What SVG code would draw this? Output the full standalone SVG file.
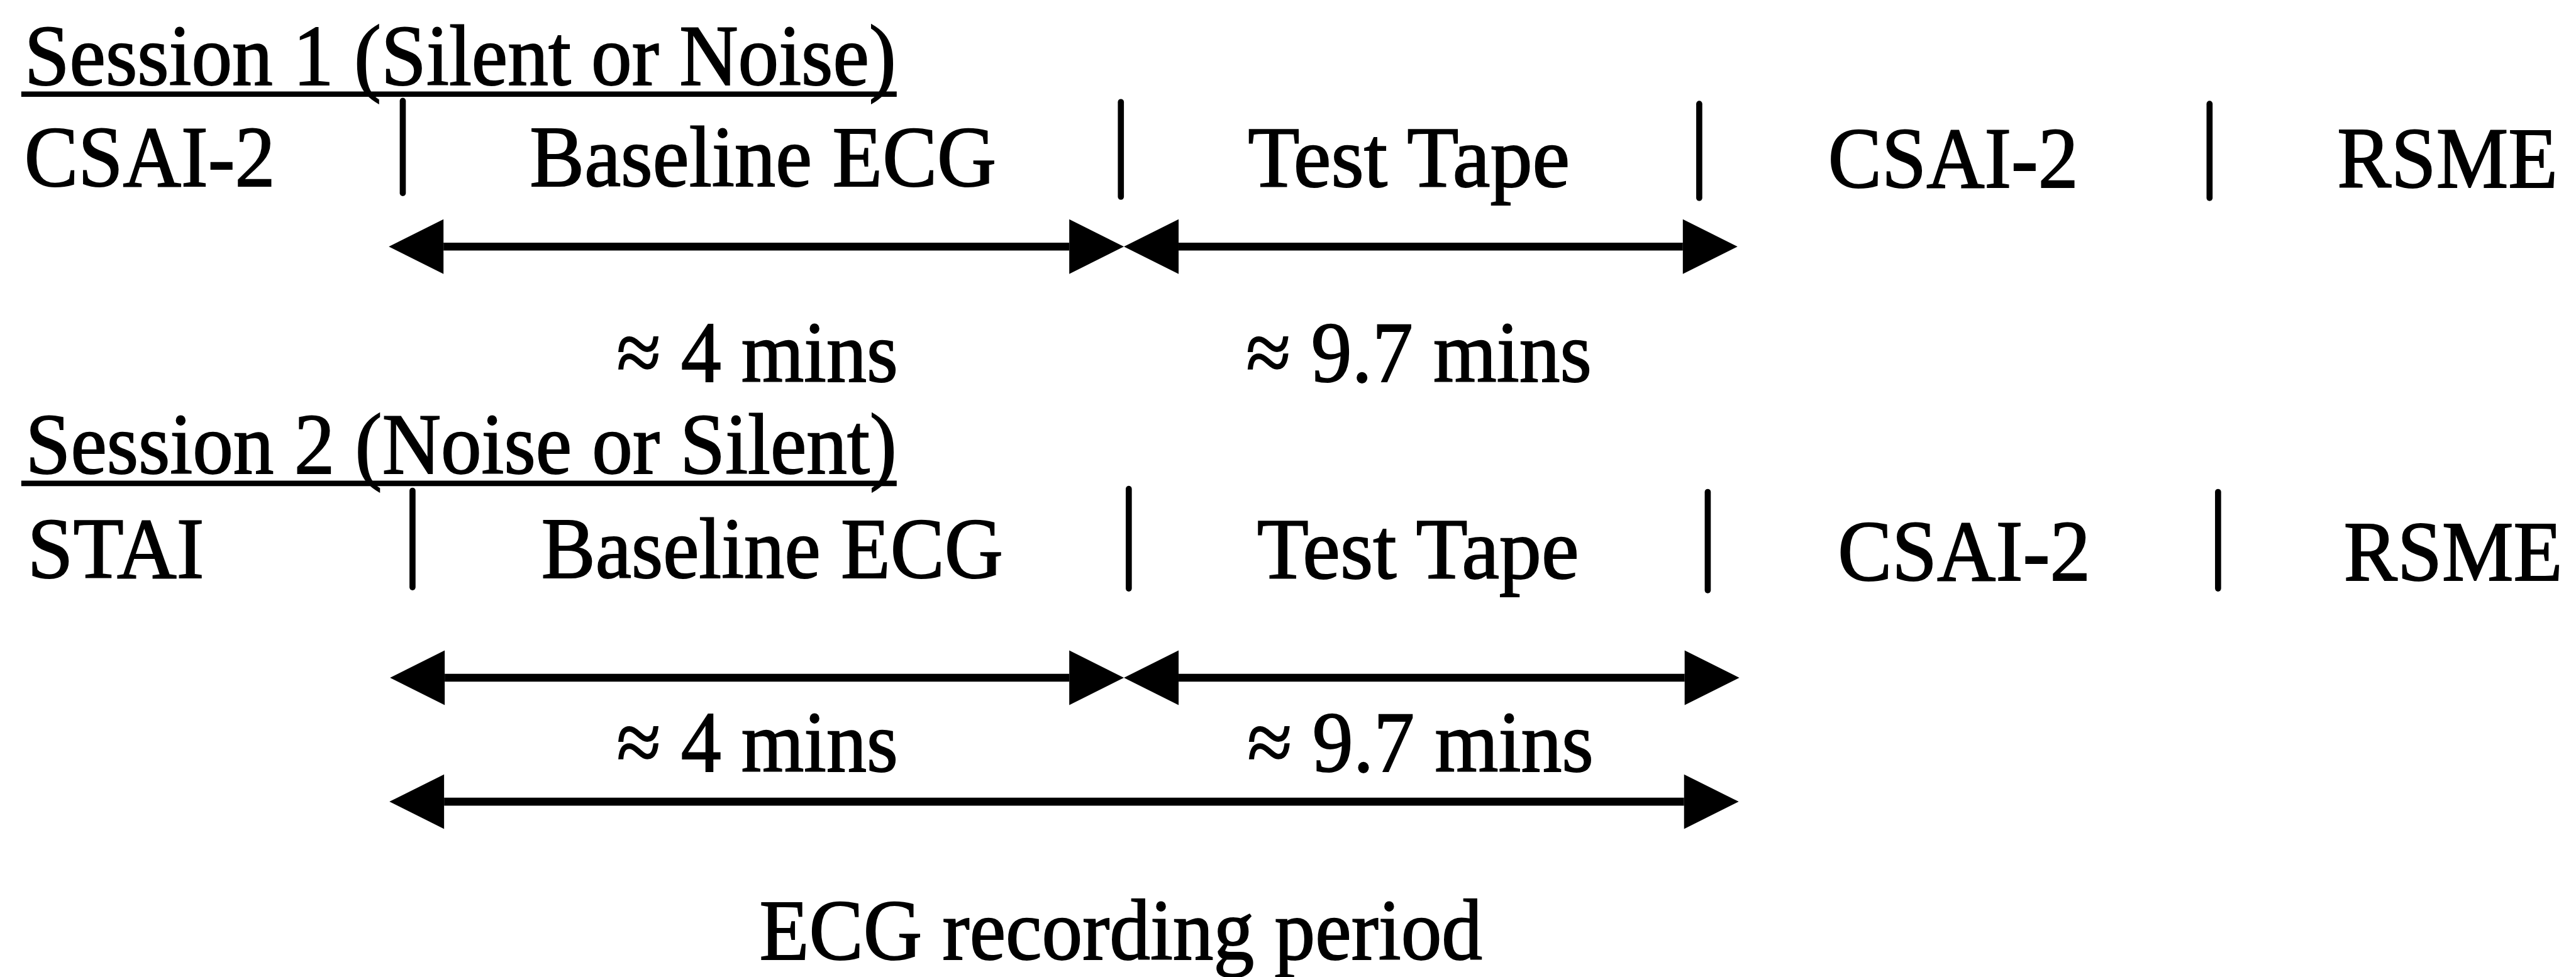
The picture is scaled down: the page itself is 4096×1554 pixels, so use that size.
<svg xmlns="http://www.w3.org/2000/svg" width="4096" height="1554" viewBox="0 0 4096 1554">
<style>
  text { font-family: "Liberation Serif", "Times New Roman", serif; font-size: 143px; fill: #000; stroke: #000; stroke-width: 2; }
  .bar { stroke: #000; stroke-width: 10; stroke-linecap: round; }
  .ul { stroke: #000; stroke-width: 9; }
  .arr { stroke: #000; stroke-width: 13; fill: none; marker-start: url(#ah); marker-end: url(#ah); }
</style>
<defs>
  <marker id="ah" markerUnits="userSpaceOnUse" markerWidth="100" markerHeight="100" viewBox="0 -50 100 100" refX="0" refY="0" orient="auto-start-reverse" overflow="visible">
    <path d="M0,-45 L90,0 L0,45 Z" fill="#000"/>
  </marker>
</defs>
<rect width="4096" height="1554" fill="#fff"/>
<g transform="scale(0.966)">
  <g id="session1-header">
    <text x="40" y="140" textLength="1435" lengthAdjust="spacingAndGlyphs">Session 1 (Silent or Noise)</text>
    <line class="ul" x1="35" y1="155" x2="1476" y2="155"/>
  </g>
  <g id="s1-csai2-pre"><text x="40" y="306" textLength="413" lengthAdjust="spacingAndGlyphs">CSAI-2</text></g>
  <g id="s1-baseline"><text x="872" y="306" textLength="768" lengthAdjust="spacingAndGlyphs">Baseline ECG</text></g>
  <g id="s1-testtape"><text x="2054" y="307" textLength="530" lengthAdjust="spacingAndGlyphs">Test Tape</text></g>
  <g id="s1-csai2-post"><text x="3009" y="308" textLength="412" lengthAdjust="spacingAndGlyphs">CSAI-2</text></g>
  <g id="s1-rsme"><text x="3847" y="309" textLength="363" lengthAdjust="spacingAndGlyphs">RSME</text></g>
  <g id="s1-dur4"><text x="1015" y="628" textLength="463" lengthAdjust="spacingAndGlyphs">≈ 4 mins</text></g>
  <g id="s1-dur97"><text x="2051" y="628" textLength="569" lengthAdjust="spacingAndGlyphs">≈ 9.7 mins</text></g>

  <g id="session2-header">
    <text x="42" y="780" textLength="1434" lengthAdjust="spacingAndGlyphs">Session 2 (Noise or Silent)</text>
    <line class="ul" x1="35" y1="796" x2="1476" y2="796"/>
  </g>
  <g id="s2-stai"><text x="45" y="951" textLength="291" lengthAdjust="spacingAndGlyphs">STAI</text></g>
  <g id="s2-baseline"><text x="891" y="951" textLength="760" lengthAdjust="spacingAndGlyphs">Baseline ECG</text></g>
  <g id="s2-testtape"><text x="2069" y="952" textLength="530" lengthAdjust="spacingAndGlyphs">Test Tape</text></g>
  <g id="s2-csai2"><text x="3025" y="955" textLength="416" lengthAdjust="spacingAndGlyphs">CSAI-2</text></g>
  <g id="s2-rsme"><text x="3858" y="955" style="font-size:140px" textLength="360" lengthAdjust="spacingAndGlyphs">RSME</text></g>
  <g id="s2-dur4"><text x="1015" y="1270" textLength="463" lengthAdjust="spacingAndGlyphs">≈ 4 mins</text></g>
  <g id="s2-dur97"><text x="2053" y="1270" textLength="570" lengthAdjust="spacingAndGlyphs">≈ 9.7 mins</text></g>
  <g id="ecg-period"><text x="1250" y="1580" textLength="1190" lengthAdjust="spacingAndGlyphs">ECG recording period</text></g>

  <g id="separators">
    <line class="bar" x1="663" y1="166" x2="663" y2="318"/>
    <line class="bar" x1="1845" y1="168" x2="1845" y2="324"/>
    <line class="bar" x1="2797" y1="171" x2="2797" y2="326"/>
    <line class="bar" x1="3637" y1="171" x2="3637" y2="326"/>
    <line class="bar" x1="679" y1="808" x2="679" y2="967"/>
    <line class="bar" x1="1858" y1="805" x2="1858" y2="969"/>
    <line class="bar" x1="2811" y1="810" x2="2811" y2="972"/>
    <line class="bar" x1="3651" y1="810" x2="3651" y2="969"/>
  </g>

  <g id="connectors">
    <line class="arr" x1="730" y1="406" x2="1760" y2="406"/>
    <line class="arr" x1="1940" y1="406" x2="2770" y2="406"/>
    <line class="arr" x1="732" y1="1116" x2="1760" y2="1116"/>
    <line class="arr" x1="1940" y1="1116" x2="2773" y2="1116"/>
    <line class="arr" x1="731" y1="1320" x2="2772" y2="1320"/>
  </g>
</g>
</svg>
